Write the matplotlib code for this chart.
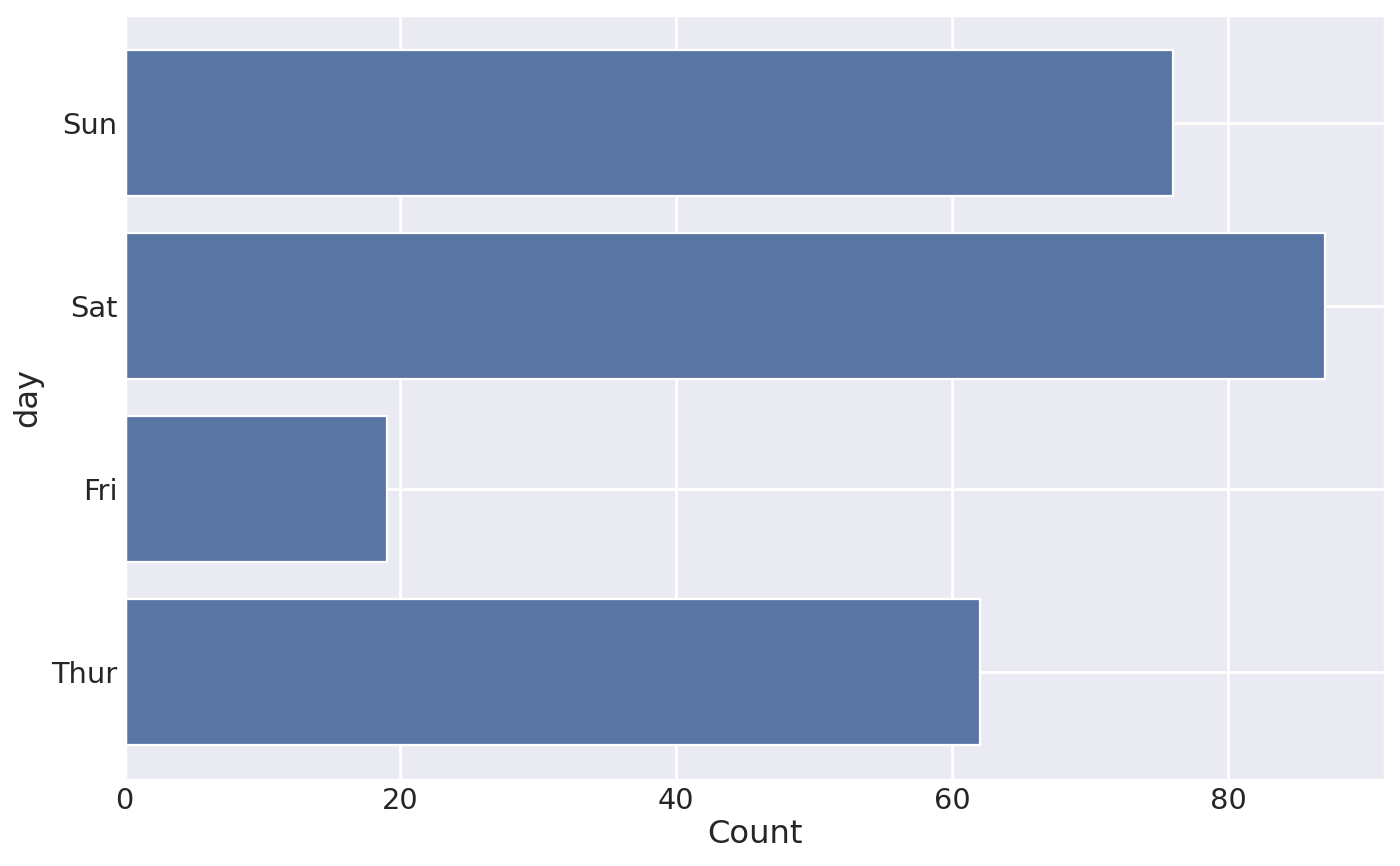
import matplotlib
matplotlib.use("Agg")
import matplotlib.pyplot as plt
import seaborn as sns

# Counts of tips per day
days = ["Thur", "Fri", "Sat", "Sun"]
counts = [62, 19, 87, 76]

sns.set_theme(style="darkgrid")
plt.rcParams["font.family"] = ["DejaVu Sans"]

fig, ax = plt.subplots(figsize=(7, 4.33), dpi=200)
ax.barh(days, counts, height=0.8, color="#5975a4",
        edgecolor="white", linewidth=0.8)
ax.tick_params(axis="both", length=0, pad=2.5, labelsize=10.4)
ax.set_xlabel("Count", fontsize=11.6, labelpad=1.5)
ax.set_ylabel("day", fontsize=11.6, labelpad=3)
fig.subplots_adjust(left=0.089, right=0.989, top=0.983, bottom=0.099)
fig.savefig("out.png", dpi=200)
